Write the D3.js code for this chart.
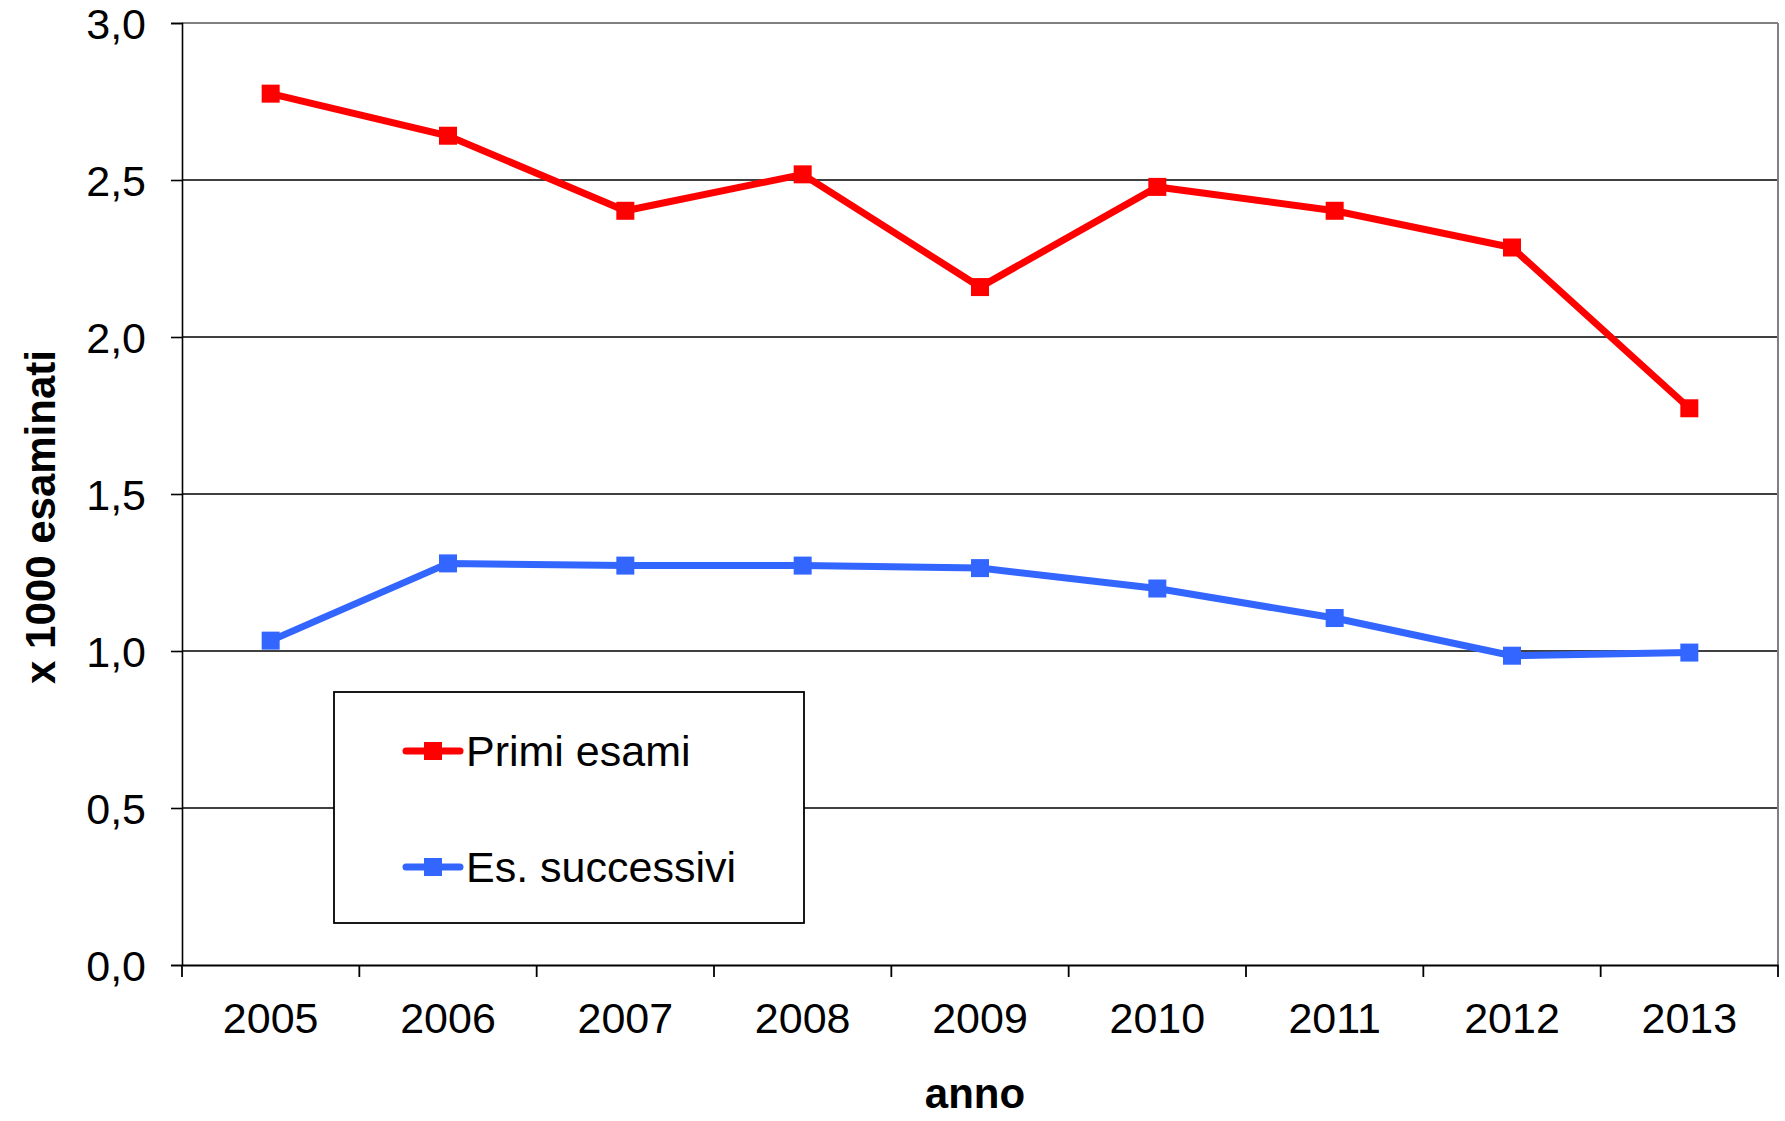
<!DOCTYPE html>
<html><head><meta charset="utf-8">
<script src="https://cdn.jsdelivr.net/npm/d3@7"></script>
<style>body{margin:0;background:#fff}svg{display:block}text{font-family:"Liberation Sans",Arial,sans-serif}</style>
</head><body>
<script>
const years = ["2005","2006","2007","2008","2009","2010","2011","2012","2013"];
const primiEsami = [2.775, 2.641, 2.402, 2.518, 2.159, 2.478, 2.402, 2.285, 1.773];
const esSuccessivi = [1.033, 1.279, 1.272, 1.272, 1.264, 1.199, 1.105, 0.985, 0.995];
const yTicks = [0, 0.5, 1.0, 1.5, 2.0, 2.5, 3.0];
const seriesNames = ["Primi esami", "Es. successivi"];
const seriesColors = ["#FF0000", "#3366FF"];

const W = 1785, H = 1121;
const L = 182, R = 1778, T = 23, B = 965;
const FS = 43;
const svg = d3.select("body").append("svg").attr("width", W).attr("height", H);

const x = d3.scaleBand().domain(years).range([L, R]);
const y = d3.scaleLinear().domain([0, 3]).range([B, T]);

// gridlines
svg.append("g").selectAll("line").data(yTicks.filter(d => d > 0 && d < 3)).join("line")
  .attr("x1", L).attr("x2", R).attr("y1", d => y(d)).attr("y2", d => y(d))
  .attr("stroke", "#000").attr("stroke-width", 1.6);
// plot border top/right gray
svg.append("line").attr("x1", L).attr("x2", R).attr("y1", y(3)).attr("y2", y(3)).attr("stroke", "#808080").attr("stroke-width", 2);
svg.append("line").attr("x1", R).attr("x2", R).attr("y1", T).attr("y2", B).attr("stroke", "#808080").attr("stroke-width", 2);

// y axis
const fmt = d => d3.format(".1f")(d).replace(".", ",");
const yAxis = svg.append("g").attr("transform", `translate(${L},0)`)
  .call(d3.axisLeft(y).tickValues(yTicks).tickFormat(fmt).tickSize(11).tickPadding(25));
yAxis.select(".domain").attr("stroke", "#000").attr("stroke-width", 1.6);
yAxis.selectAll(".tick line").attr("stroke", "#000").attr("stroke-width", 1.6);
yAxis.selectAll("text").attr("font-size", FS).attr("fill", "#000").attr("dy", "0.35em");

// x axis with ticks at band boundaries
const xAxis = svg.append("g").attr("transform", `translate(0,${B})`)
  .call(d3.axisBottom(x).tickSize(0).tickPadding(37));
xAxis.select(".domain").attr("stroke", "#000").attr("stroke-width", 2.2);
xAxis.selectAll("text").attr("font-size", FS).attr("fill", "#000").attr("dy", "0.71em");
const bounds = years.map(d => x(d)).concat([R]);
xAxis.append("g").selectAll("line").data(bounds).join("line")
  .attr("x1", d => d).attr("x2", d => d).attr("y1", 0).attr("y2", 12)
  .attr("stroke", "#000").attr("stroke-width", 1.8);

// series
const allSeries = [primiEsami, esSuccessivi];
const line = d3.line().x((d, i) => x(years[i]) + x.bandwidth() / 2).y(d => y(d));
allSeries.forEach((vals, si) => {
  svg.append("path").datum(vals).attr("d", line).attr("fill", "none")
    .attr("stroke", seriesColors[si]).attr("stroke-width", 7).attr("stroke-linejoin", "miter");
  svg.append("g").selectAll("rect").data(vals).join("rect")
    .attr("x", (d, i) => x(years[i]) + x.bandwidth() / 2 - 9)
    .attr("y", d => y(d) - 9).attr("width", 18).attr("height", 18)
    .attr("fill", seriesColors[si]);
});

// legend
const lg = svg.append("g");
lg.append("rect").attr("x", 334).attr("y", 692).attr("width", 470).attr("height", 231)
  .attr("fill", "#fff").attr("stroke", "#000").attr("stroke-width", 1.8);
const legY = [751, 867];
seriesNames.forEach((n, i) => {
  lg.append("line").attr("x1", 406).attr("x2", 460).attr("y1", legY[i]).attr("y2", legY[i])
    .attr("stroke", seriesColors[i]).attr("stroke-width", 7).attr("stroke-linecap", "round");
  lg.append("rect").attr("x", 424).attr("y", legY[i] - 9).attr("width", 18).attr("height", 18).attr("fill", seriesColors[i]);
  lg.append("text").attr("x", 466).attr("y", legY[i]).attr("dy", "0.35em")
    .attr("font-size", FS).attr("fill", "#000").text(n);
});

// axis titles
svg.append("text").attr("x", 975).attr("y", 1093).attr("dy", "0.35em").attr("text-anchor", "middle")
  .attr("font-size", 42).attr("font-weight", "bold").text("anno");
svg.append("text").attr("transform", "translate(40,517) rotate(-90)").attr("dy", "0.35em")
  .attr("text-anchor", "middle").attr("font-size", 42).attr("font-weight", "bold").text("x 1000 esaminati");
</script>
</body></html>
